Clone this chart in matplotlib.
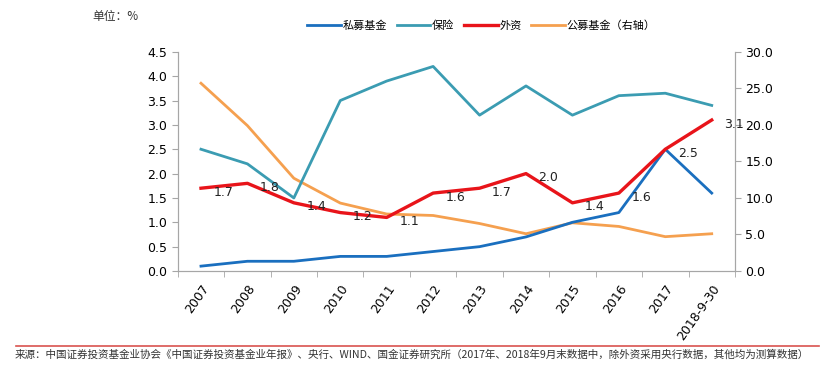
"""
Investor holdings share chart, Excel-style dual axis.
"""
import matplotlib.pyplot as plt
import numpy as np

plt.rcParams["font.family"] = ["Noto Sans CJK SC", "DejaVu Sans"]

years = ["2007", "2008", "2009", "2010", "2011", "2012", "2013", "2014",
         "2015", "2016", "2017", "2018-9-30"]
private_fund = [0.1, 0.2, 0.2, 0.3, 0.3, 0.4, 0.5, 0.7, 1.0, 1.2, 2.5, 1.6]
insurance = [2.5, 2.2, 1.5, 3.5, 3.9, 4.2, 3.2, 3.8, 3.2, 3.6, 3.65, 3.4]
foreign = [1.7, 1.8, 1.4, 1.2, 1.1, 1.6, 1.7, 2.0, 1.4, 1.6, 2.5, 3.1]
public_fund = [25.7, 19.9, 12.7, 9.3, 7.8, 7.6, 6.5, 5.1, 6.6, 6.1, 4.7, 5.1]

c_blue = "#1a6fbf"
c_teal = "#3b9cb2"
c_red = "#e8141a"
c_orange = "#f5a04f"
c_axis = "#a6a6a6"

fig = plt.figure(figsize=(8.23, 3.65), dpi=100)
ax = fig.add_axes([0.216, 0.2575, 0.677, 0.6005])
ax2 = ax.twinx()

x = np.arange(len(years))
lw = 2.0
l1, = ax.plot(x, private_fund, color=c_blue, lw=lw, label="私募基金")
l2, = ax.plot(x, insurance, color=c_teal, lw=lw, label="保险")
l3, = ax.plot(x, foreign, color=c_red, lw=2.4, label="外资", zorder=5)
l4, = ax2.plot(x, public_fund, color=c_orange, lw=lw, label="公募基金（右轴）")
ax.set_zorder(ax2.get_zorder() + 1)
ax.patch.set_visible(False)

for xi, v in zip(x, foreign):
    ax.annotate(f"{v:.1f}", (xi, v), xytext=(9, -3), textcoords="offset points",
                fontsize=9, color="#222222", va="center", ha="left",
                family="DejaVu Sans", zorder=6)

ax.set_xlim(-0.5, len(years) - 0.5)
ax.set_ylim(0, 4.5)
ax.set_yticks(np.arange(0, 4.51, 0.5))
ax.set_yticklabels([f"{t:.1f}" for t in np.arange(0, 4.51, 0.5)])
ax2.set_ylim(0, 30)
ax2.set_yticks(np.arange(0, 30.1, 5))
ax2.set_yticklabels([f"{t:.1f}" for t in np.arange(0, 30.1, 5)])

ax.set_xticks(x)
ax.set_xticklabels(years, rotation=55, ha="right", rotation_mode="anchor",
                   fontsize=9, family="DejaVu Sans")
ax.set_xticks(np.arange(-0.5, len(years), 1), minor=True)
ax.tick_params(axis="x", which="major", length=0, pad=8)
ax.tick_params(axis="x", which="minor", length=4, color=c_axis)

for a in (ax, ax2):
    a.tick_params(axis="y", labelsize=9, length=4, color=c_axis)
    for s in a.spines.values():
        s.set_color(c_axis)
    a.spines["top"].set_visible(False)
for lbl in ax.get_yticklabels() + ax2.get_yticklabels():
    lbl.set_family("DejaVu Sans")

fig.text(0.112, 0.945, "单位：%", fontsize=8.5, color="#333333")
fig.legend(handles=[l1, l2, l3, l4], loc="center", bbox_to_anchor=(0.585, 0.93),
           ncol=4, frameon=False, fontsize=8, handlelength=3.0,
           columnspacing=0.9, handletextpad=0.15)

fig.add_artist(plt.Line2D([0.02, 0.995], [0.052, 0.052], color="#d9534f", lw=1.2))
fig.text(0.018, 0.027,
         "来源：中国证券投资基金业协会《中国证券投资基金业年报》、央行、WIND、国金证券研究所"
         "（2017年、2018年9月末数据中，除外资采用央行数据，其他均为测算数据）",
         fontsize=7.6, color="#333333", style="italic", va="center")

fig.savefig("out.png", dpi=100)
